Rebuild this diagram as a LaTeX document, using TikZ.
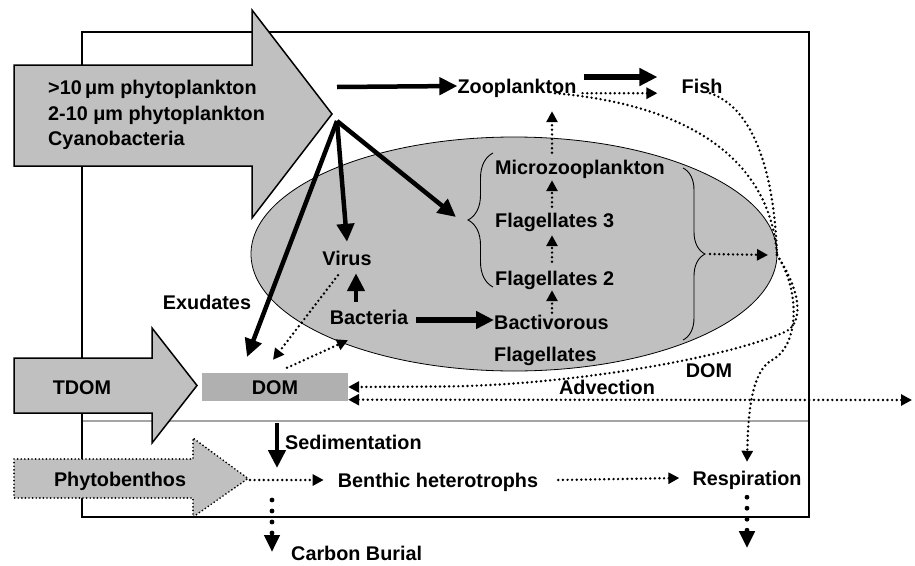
\documentclass[tikz,border=0pt]{standalone}
\usepackage{fontspec}
\setmainfont{Liberation Sans}
\usetikzlibrary{arrows.meta,decorations.pathreplacing}
\definecolor{fillgray}{HTML}{C0C0C0}
\definecolor{domgray}{HTML}{B0B0B0}
\definecolor{sedgray}{HTML}{A4A4A4}
\begin{document}
\begin{tikzpicture}[x=1pt,y=-1pt,
  lbl/.style={font=\fontsize{19.8}{24}\selectfont\bfseries, inner sep=0pt, text height=14pt, text depth=0pt},
  bigarrow/.style={line width=1.5pt, fill=fillgray, line join=miter},
  thk/.style={line width=4.5pt, -{Triangle[length=18pt,width=17pt]}},
  dots/.style={line width=2.7pt, dash pattern=on 0pt off 4.6pt, line cap=round},
  dotarr/.style={dots, -{Triangle[length=11pt,width=11pt]}},
  bigdotarr/.style={line width=4.8pt, dash pattern=on 0pt off 11pt, line cap=round, -{Triangle[length=17pt,width=15pt]}},
  bracestyle/.style={line width=0.9pt, decorate}
]
\useasboundingbox (0,0) rectangle (915,565);
% frame, ellipse, sediment line
\draw[line width=1.6pt] (82,32) rectangle (809,517);
\draw[line width=0.8pt, fill=fillgray] (514,254) ellipse [x radius=263, y radius=117];
\draw[line width=2pt, sedgray] (83,421) -- (808,421);
% big arrows
\draw[bigarrow] (14,65) -- (252,65) -- (252,10) -- (332,114) -- (252,218) -- (252,166) -- (14,166) -- cycle;
\draw[bigarrow] (14,358) -- (152,358) -- (152,328) -- (197,385.5) -- (152,443) -- (152,413) -- (14,413) -- cycle;
\draw[line width=1.9pt, dash pattern=on 0pt off 3.6pt, line cap=round, fill=fillgray] (14,459) -- (193,459) -- (193,438) -- (248,478.5) -- (193,517) -- (193,498) -- (14,498) -- cycle;
% DOM box
\node[lbl, fill=domgray, minimum width=146pt, minimum height=28pt] (dom) at (275,387) {DOM};
% texts
\node[lbl, anchor=west] (phy1) at (48,87) {>10\,μm phytoplankton};
\node[lbl, anchor=west] (phy2) at (48,113) {2-10 μm phytoplankton};
\node[lbl, anchor=west] (phy3) at (48,138) {Cyanobacteria};
\node[lbl] (zoo) at (517,86) {Zooplankton};
\node[lbl] (fish) at (702,86) {Fish};
\node[lbl, anchor=west] (micro) at (495,167) {Microzooplankton};
\node[lbl, anchor=west] (fl3) at (495,220) {Flagellates 3};
\node[lbl, anchor=west] (fl2) at (495,278) {Flagellates 2};
\node[lbl, anchor=west] (bact) at (494,322) {Bactivorous};
\node[lbl, anchor=west] (bactf) at (494,354) {Flagellates};
\node[lbl] (virus) at (347,258) {Virus};
\node[lbl] (bacteria) at (369,317) {Bacteria};
\node[lbl] (exud) at (207,302) {Exudates};
\node[lbl] (tdom) at (82,387) {TDOM};
\node[lbl] (adv) at (607,387) {Advection};
\node[lbl] (domlbl) at (709,370) {DOM};
\node[lbl, anchor=west] (sedim) at (285,442) {Sedimentation};
\node[lbl] (phytob) at (120,479) {Phytobenthos};
\node[lbl] (benthic) at (438,480) {Benthic heterotrophs};
\node[lbl] (resp) at (747,478) {Respiration};
\node[lbl, anchor=west] (burial) at (291,553) {Carbon Burial};
% coordinates
\coordinate (P) at (337,121);
\coordinate (zs) at (337,87);
\coordinate (exudtip) at (247,357);
\coordinate (lbtip) at (456,217);
\coordinate (J) at (777,255);
\coordinate (col) at (552,0);
\coordinate (phtip) at (250,480);
\coordinate (bj) at (272,480);
\coordinate (advend) at (912,400);
\coordinate (sedtop) at (277,423);
\coordinate (sedbot) at (277,468);
% braces
\draw[bracestyle, decoration={brace, amplitude=25pt}] (493,287) -- (493,153);
\draw[bracestyle, decoration={brace, amplitude=22pt}] (683,168) -- (683,340);
% thick arrows
\draw[thk] (zs) -- (zoo.west);
\draw[thk] (P) -- (exudtip);
\draw[thk] (P) -- ([yshift=9pt]virus.north);
\draw[thk] (P) -- (lbtip);
\draw[thk, line width=6pt] ([shift={(7,-9)}]zoo.east) -- ([shift={(-24,-9)}]fish.west);
\draw[thk, line width=5.5pt] ([xshift=8pt,yshift=-3pt]bacteria.east) -- ([yshift=2pt]bact.west);
\draw[thk] ([xshift=-13pt,yshift=8pt]bacteria.north) -- ([xshift=9pt,yshift=-8pt]virus.south);
\draw[thk] (sedtop) -- (sedbot);
% dotted arrows
\draw[dotarr] ([shift={(-9,10)}]virus.south) -- ([shift={(-2,-13)}]dom.north);
\draw[dotarr] ([shift={(12,-5)}]dom.north) -- ([shift={(-21,16)}]bacteria.south);
\draw[dotarr] ([yshift=2pt]bact.north -| col) -- ([yshift=-5pt]fl2.south -| col);
\draw[dotarr] ([yshift=9pt]fl2.north -| col) -- ([yshift=-8pt]fl3.south -| col);
\draw[dotarr] ([yshift=6pt]fl3.north -| col) -- ([yshift=-6pt]micro.south -| col);
\draw[dotarr] ([yshift=7pt]micro.north -| col) -- ([yshift=-18pt]zoo.south -| col);
\draw[dotarr] ([shift={(6,0)}]zoo.south east) -- ([shift={(-24,0)}]fish.south west);
\draw[dotarr] (710,254) -- ([xshift=-9pt]J);
\draw[dots, {Triangle[length=11pt,width=11pt]}-{Triangle[length=11pt,width=11pt]}] ([yshift=1.5pt]dom.south east) -- (advend);
% curves
\draw[dots] ([shift={(38,0)}]zoo.south) .. controls (690,105) and (770,160) .. (J);
\draw[dots] ([shift={(8,0)}]fish.south) .. controls (760,110) and (775,190) .. (J);
\draw[dotarr] (J) .. controls (800,290) and (800,345) .. (772,360) .. controls (750,372) and (748,420) .. ([yshift=9pt]resp.north);
\draw[dotarr] (J) .. controls (800,290) and (805,322) .. (785,332) .. controls (720,360) and (560,386) .. (440,386.5) -- (dom.east);
% benthic row
\draw[dotarr] (phtip) -- ([xshift=-14pt]benthic.west);
\draw[dotarr] ([xshift=20pt]benthic.east) -- ([xshift=-13pt]resp.west);
\draw[bigdotarr] ([yshift=-20pt]bj) -- ([yshift=-72pt]bj);
\draw[bigdotarr] ([yshift=-12pt]resp.south) -- ([yshift=-63pt]resp.south);
\end{tikzpicture}
\end{document}
